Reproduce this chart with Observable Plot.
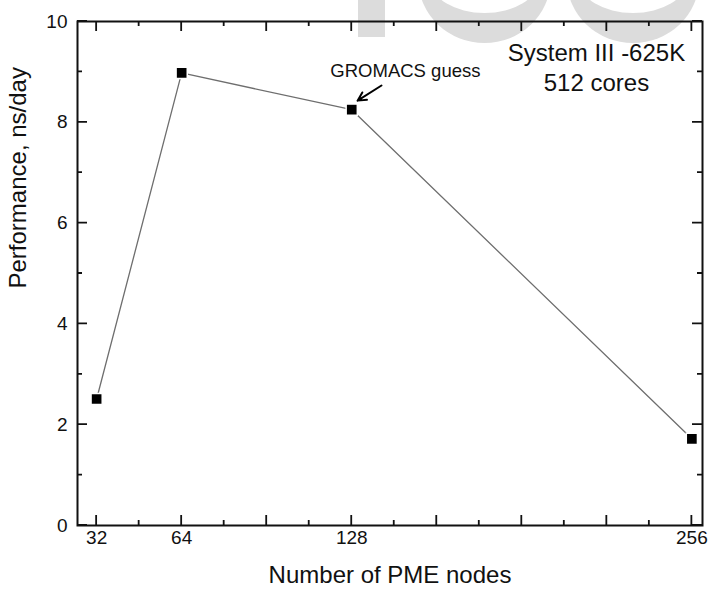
<!DOCTYPE html>
<html>
<head>
<meta charset="utf-8">
<script src="https://cdn.jsdelivr.net/npm/d3@7"></script>
<script src="https://cdn.jsdelivr.net/npm/@observablehq/plot@0.6"></script>
<style>
  html, body { margin: 0; padding: 0; background: #ffffff; }
  #chart { width: 709px; height: 595px; }
</style>
</head>
<body>
<div id="chart"></div>
<script>
// ---- data ----
const pmeNodes = [32, 64, 128, 256];
const performance = [2.51, 8.98, 8.25, 1.72];

const xMajorTicks = [32, 64, 96, 128, 160, 192, 224, 256];
const xMinorTicks = [48, 80, 112, 144, 176, 208, 240];
const xTickLabels = [32, 64, 128, 256];
const yMajorTicks = [0, 2, 4, 6, 8, 10];
const yMinorTicks = [1, 3, 5, 7, 9];

const xTitle = "Number of PME nodes";
const yTitle = "Performance, ns/day";
const boxLines = ["System III -625K", "512 cores"];
const boxX = [220.1, 220.1];
const boxY = [9.36, 8.78];
const noteText = ["GROMACS guess"];
const noteX = [148.2];
const noteY = [9.02];
const noteArrow = [{x1: 139.2, y1: 8.73, x2: 130.2, y2: 8.43}];

const rows = pmeNodes.map((n, i) => ({n, p: performance[i]}));

// ---- layout ----
const xDomain = [24.8, 260], yDomain = [0, 10];
const majorLen = 10, minorLen = 5;
const font = "'Liberation Sans', Arial, Helvetica, sans-serif";
const ink = "#111";

const chart = Plot.plot({
  width: 709, height: 595, marginLeft: 77, marginRight: 7, marginTop: 21, marginBottom: 70,
  style: {fontFamily: font, background: "transparent", overflow: "visible"},
  x: {type: "linear", domain: xDomain, label: null},
  y: {domain: yDomain, label: null},
  marks: [
    Plot.axisX(xTickLabels, {anchor: "bottom", tickSize: 0, tickPadding: 5, label: null, fontSize: 19, fill: ink, tickFormat: d => String(d)}),
    Plot.axisY(yMajorTicks, {anchor: "left", tickSize: 0, tickPadding: 10, label: null, fontSize: 19, fill: ink, tickFormat: d => String(d)}),
    Plot.text([xTitle], {frameAnchor: "bottom", dy: 57, fontSize: 24, fill: ink}),
    Plot.text([yTitle], {frameAnchor: "left", dx: -59, dy: 15, rotate: -90, fontSize: 24, fill: ink}),
    Plot.frame({stroke: ink, strokeWidth: 2}),
    Plot.line(rows, {x: "n", y: "p", stroke: "#6e6e6e", strokeWidth: 1.3}),
    Plot.dot(rows, {x: "n", y: "p", symbol: "square", r: 6.3, fill: "#000", stroke: "#fff", strokeWidth: 1.5}),
    Plot.arrow(noteArrow, {x1: "x1", y1: "y1", x2: "x2", y2: "y2", stroke: "#000", strokeWidth: 2, headLength: 9, headAngle: 55}),
    Plot.text(noteText, {x: noteX, y: noteY, text: d => d, fontSize: 18.5, fill: ink}),
    Plot.text(boxLines, {x: boxX, y: boxY, text: d => d, fontSize: 24, fill: ink})
  ]
});

// inward ticks on all four sides, positioned with Plot's own scales
const sx = chart.scale("x"), sy = chart.scale("y");
const frameLeft = sx.apply(xDomain[0]), frameRight = sx.apply(xDomain[1]);
const frameBottom = sy.apply(yDomain[0]), frameTop = sy.apply(yDomain[1]);
let tickPath = "";
const addX = (vals, len) => vals.forEach(v => {
  const px = sx.apply(v);
  tickPath += `M${px},${frameBottom}V${frameBottom - len}M${px},${frameTop}V${frameTop + len}`;
});
const addY = (vals, len) => vals.forEach(v => {
  const py = sy.apply(v);
  tickPath += `M${frameLeft},${py}H${frameLeft + len}M${frameRight},${py}H${frameRight - len}`;
});
addX(xMajorTicks, majorLen); addX(xMinorTicks, minorLen);
addY(yMajorTicks, majorLen); addY(yMinorTicks, minorLen);

const svg = d3.select(chart);
svg.append("path").attr("d", tickPath).attr("fill", "none").attr("stroke", ink).attr("stroke-width", 1.8);

// faint, partly cropped watermark shapes behind the chart (decoration only)
const wm = svg.insert("g", ":first-child").attr("fill", "#dcdcdc");
[[484.5, -20], [633, -20]].forEach(([cx, cy]) => {
  wm.append("ellipse").attr("cx", cx).attr("cy", cy).attr("rx", 66).attr("ry", 63);
  wm.append("ellipse").attr("cx", cx).attr("cy", cy).attr("rx", 54).attr("ry", 33).attr("fill", "#ffffff");
});
wm.append("rect").attr("x", 358).attr("y", 0).attr("width", 27).attr("height", 37);

document.getElementById("chart").appendChild(chart);
</script>
</body>
</html>
